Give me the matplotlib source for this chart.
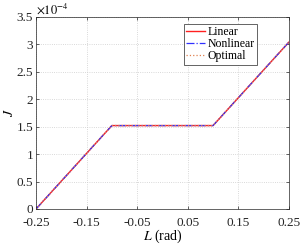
import numpy as np
import matplotlib
matplotlib.use("Agg")
import matplotlib.pyplot as plt

# values (J in units of 1e-4)
L_pts = [-0.25, -0.1, 0.1, 0.25]
J_linear = [0.0, 1.52, 1.52, 3.04]
J_nonlinear = [0.0, 1.52, 1.52, 3.04]
J_optimal = [0.0, 1.52, 1.52, 3.04]

x_ticks = [-0.25, -0.15, -0.05, 0.05, 0.15, 0.25]
y_ticks = [0, 0.5, 1, 1.5, 2, 2.5, 3, 3.5]

plt.rcParams['font.family'] = ['Liberation Serif', 'DejaVu Serif']
plt.rcParams['mathtext.fontset'] = 'stix'

fig = plt.figure(figsize=(3.0, 2.45), dpi=100)
ax = fig.add_axes([0.12, 0.147, 0.843, 0.784])

scale = 1e-4
ax.plot(L_pts, np.array(J_linear) * scale, color='#ff2020', lw=1.0, label='Linear')
ax.plot(L_pts, np.array(J_nonlinear) * scale, color='#3030ff', lw=0.9, ls='-.', label='Nonlinear')
ax.plot(L_pts, np.array(J_optimal) * scale, color='#e08050', lw=0.9, ls=':', label='Optimal')

ax.set_xlim(-0.25, 0.25)
ax.set_ylim(0, 3.5e-4)
ax.set_xticks(x_ticks)
ax.set_xticklabels([f'{t:g}' for t in x_ticks])
ax.set_yticks(np.array(y_ticks) * scale)
ax.set_yticklabels([f'{t:g}' for t in y_ticks])
ax.text(0.0, 1.0, r'$\times10^{-4}$', transform=ax.transAxes, fontsize=9,
        ha='left', va='bottom')

ax.grid(True, ls=':', color='#cccccc', lw=0.6)
ax.tick_params(direction='in', top=True, right=True, length=2.5, width=0.5,
               colors='#262626', labelsize=9.5)
ax.tick_params(axis='x', pad=6)
ax.tick_params(axis='y', pad=2)
for s in ax.spines.values():
    s.set_linewidth(0.5)
    s.set_color('#262626')

ax.set_xlabel(r'$L$ (rad)', fontsize=10, labelpad=-1)
ax.set_ylabel(r'$J$', fontsize=10)
ax.yaxis.set_label_coords(-0.08, 0.5)

leg = ax.legend(loc='upper right', bbox_to_anchor=(0.874, 0.964), fontsize=8.5,
                handlelength=1.6, handletextpad=0.2, borderpad=0.2,
                labelspacing=0.0, borderaxespad=0, fancybox=False, framealpha=1)
leg.get_frame().set_edgecolor('#262626')
leg.get_frame().set_linewidth(0.5)

fig.savefig('out.png', dpi=100)
